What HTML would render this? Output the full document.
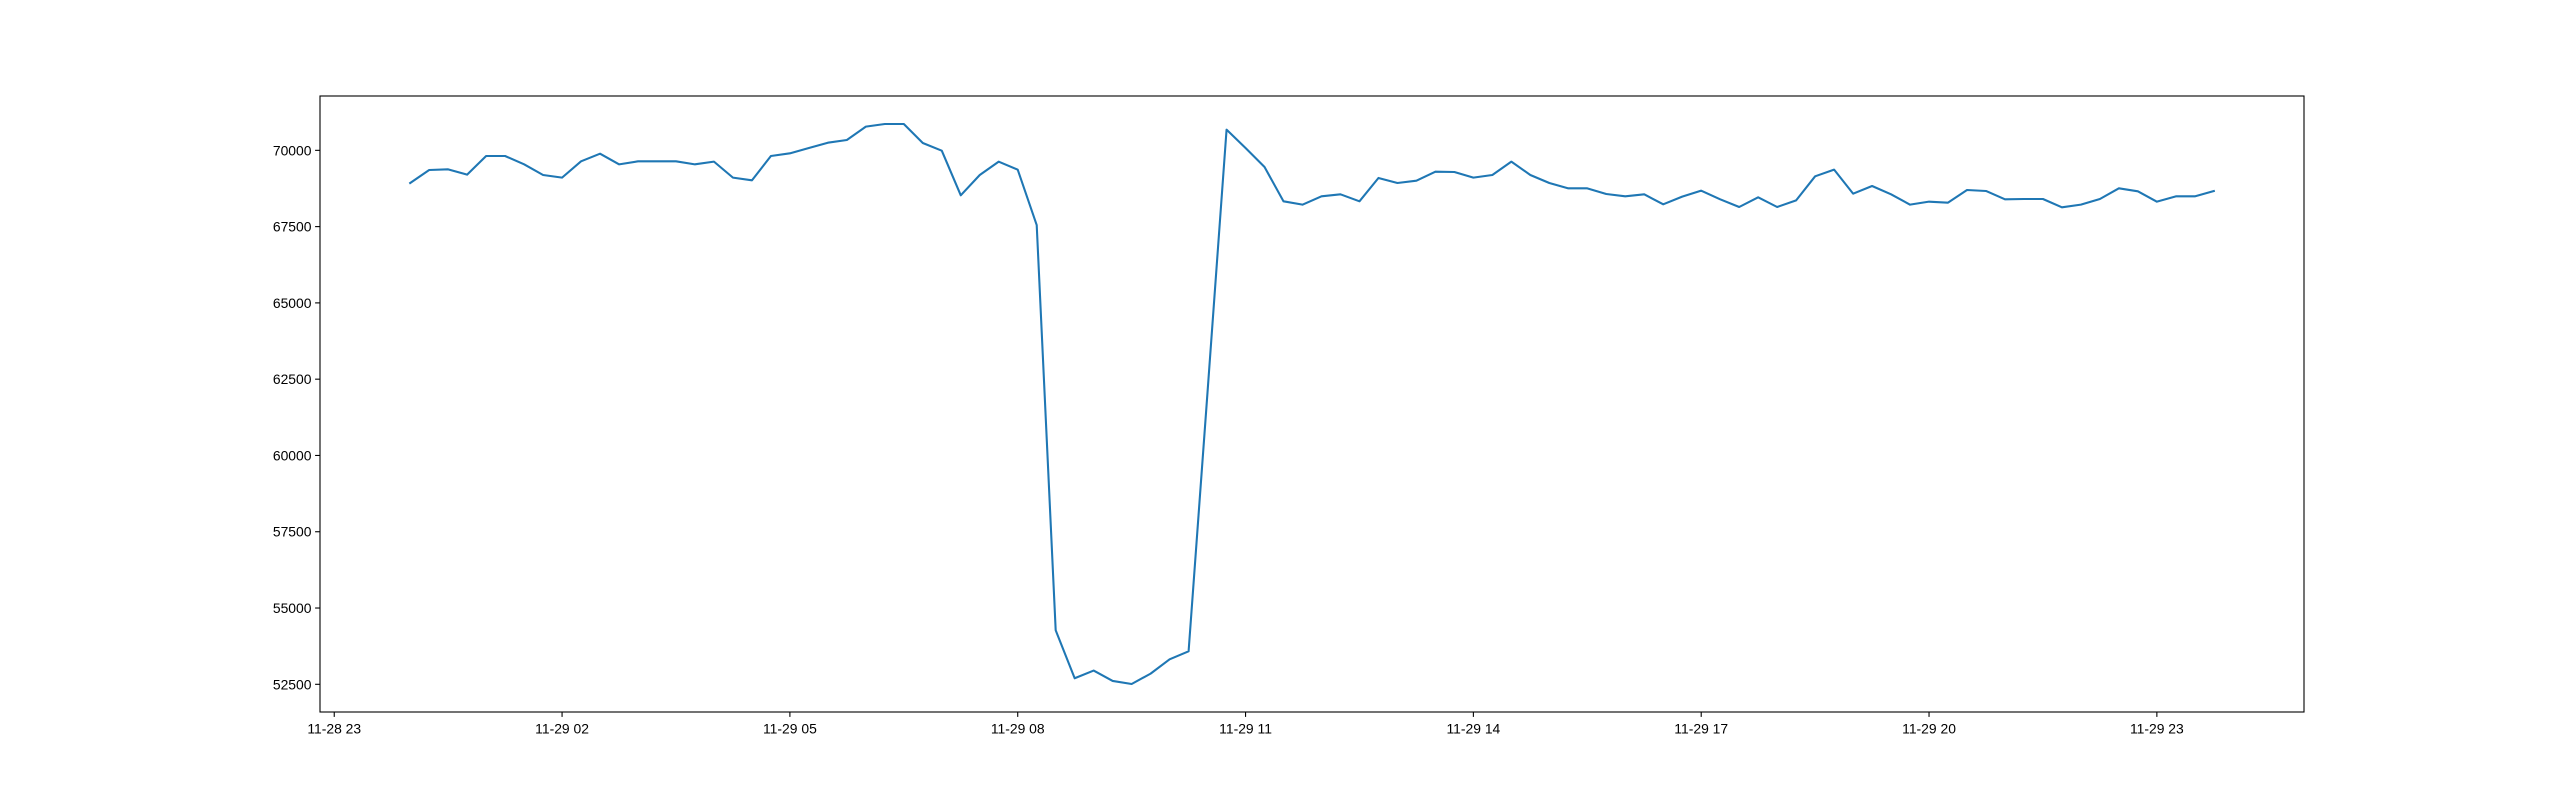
<!DOCTYPE html>
<html><head><meta charset="utf-8"><style>
html,body{margin:0;padding:0;background:#fff;}
svg{display:block;font-family:"Liberation Sans","DejaVu Sans",sans-serif;}
</style></head><body>
<svg id="chart" width="2560" height="800" viewBox="0 0 2560 800" xmlns="http://www.w3.org/2000/svg">
<rect width="2560" height="800" fill="#fff"/>
</svg>
<script>
// start time: 2023-11-29 00:00 (hours offset from that), 15-min steps
const startHour = 0;
const stepHours = 0.25;
const values = [68929,69355,69377,69203,69814,69814,69541,69192,69105,69640,69891,69541,69640,69640,69640,69541,69630,69105,69017,69814,69902,70076,70250,70339,70776,70863,70863,70240,69989,68525,69192,69629,69367,67550,54270,52698,52950,52610,52510,52850,53320,53580,62100,70677,70076,69454,68329,68220,68493,68558,68329,69094,68929,69006,69301,69290,69105,69192,69629,69192,68929,68755,68755,68569,68493,68558,68230,68482,68679,68394,68143,68460,68143,68361,69148,69367,68580,68831,68558,68220,68318,68285,68700,68668,68394,68405,68405,68132,68220,68405,68755,68657,68318,68493,68493,68668];
const yTicks = [52500,55000,57500,60000,62500,65000,67500,70000];
const xTickHours = [-1,2,5,8,11,14,17,20,23];
const xTickLabels = ["11-28 23","11-29 02","11-29 05","11-29 08","11-29 11","11-29 14","11-29 17","11-29 20","11-29 23"];

const NS="http://www.w3.org/2000/svg";
const svg=document.getElementById('chart');
const L=320,R=2304,T=96,B=712;
const hours=values.map((v,i)=>startHour+i*stepHours);
const xmin0=Math.min(...hours),xmax0=Math.max(...hours),xm=(xmax0-xmin0)*0.05;
const ymin0=Math.min(...values),ymax0=Math.max(...values),ym=(ymax0-ymin0)*0.05;
const xd=[xmin0-xm,xmax0+xm],yd=[ymin0-ym,ymax0+ym];
const xs=h=>L+(h-xd[0])/(xd[1]-xd[0])*(R-L);
const ys=v=>B-(v-yd[0])/(yd[1]-yd[0])*(B-T);
function mk(tag,attrs,parent){const e=document.createElementNS(NS,tag);for(const k in attrs)e.setAttribute(k,attrs[k]);(parent||svg).appendChild(e);return e;}

const pts=values.map((v,i)=>xs(hours[i]).toFixed(2)+','+ys(v).toFixed(2)).join(' ');
const line=mk('polyline',{points:pts,fill:'none',stroke:'#1f77b4','stroke-width':2.08,'stroke-linejoin':'round','stroke-linecap':'square'});



yTicks.forEach(v=>{
  const y=ys(v);
  const t=mk('line',{x1:L-4.9,x2:L,y1:y,y2:y,stroke:'#000','stroke-width':1.1});
  
  
  const tx=mk('text',{x:L-8.5,y:y+5,'text-anchor':'end','font-size':13.9,fill:'#000'});
  tx.textContent=String(v);
  
  
});
xTickHours.forEach((h,i)=>{
  const x=xs(h);
  const t=mk('line',{x1:x,x2:x,y1:B,y2:B+4.9,stroke:'#000','stroke-width':1.1});
  
  
  const tx=mk('text',{x:x,y:B+21.5,'text-anchor':'middle','font-size':13.9,fill:'#000'});
  tx.textContent=xTickLabels[i];
  
  
});
const frame=mk('rect',{x:L,y:T,width:R-L,height:B-T,fill:'none',stroke:'#000','stroke-width':1.1});


</script>
</body></html>
